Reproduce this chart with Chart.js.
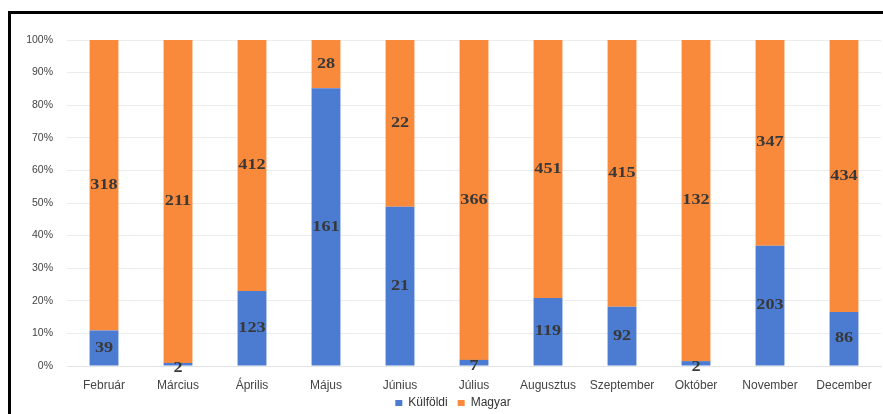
<!DOCTYPE html>
<html>
<head>
<meta charset="utf-8">
<script src="https://cdn.jsdelivr.net/npm/chart.js@4"></script>
<style>
  html, body { margin: 0; padding: 0; background: #fff; }
  #wrap { position: relative; width: 883px; height: 414px; }
  #frame {
    position: absolute; left: 8px; top: 11px; right: 0; bottom: -3px;
    border-left: 3px solid #000; border-top: 3px solid #000;
    box-shadow: 0 1px 0 #bbb; pointer-events: none;
  }
  canvas { position: absolute; left: 0; top: 0; }
</style>
</head>
<body>
<div id="wrap">
  <canvas id="chart" width="883" height="414"></canvas>
  <div id="frame"></div>
</div>
<script>
// monthly visitors, foreign vs. hungarian (stacked 100%)
const months = ["Február", "Március", "Április", "Május", "Június", "Július",
  "Augusztus", "Szeptember", "Október", "November", "December"];
const kulfoldi = [39, 2, 123, 161, 21, 7, 119, 92, 2, 203, 86];
const magyar = [318, 211, 412, 28, 22, 366, 451, 415, 132, 347, 434];
const yTicks = [0, 10, 20, 30, 40, 50, 60, 70, 80, 90, 100];

const totals = months.map((m, i) => kulfoldi[i] + magyar[i]);
const pct = (arr) => arr.map((v, i) => (v / totals[i]) * 100);
const rawValues = [kulfoldi, magyar];

// draws the raw counts centred on each bar segment (a bit stretched, like the original)
const valueLabels = {
  id: "valueLabels",
  afterDatasetsDraw(chart) {
    const ctx = chart.ctx;
    chart.data.datasets.forEach((ds, di) => {
      chart.getDatasetMeta(di).data.forEach((bar, i) => {
        const h = Math.abs(bar.base - bar.y);
        const y = (bar.y + bar.base) / 2 + (h < 10 ? 4 : 0);
        ctx.save();
        ctx.translate(bar.x, y);
        ctx.scale(1.3, 1);
        ctx.font = "bold 14px 'Liberation Serif', serif";
        ctx.fillStyle = "#383838";
        ctx.textAlign = "center";
        ctx.textBaseline = "middle";
        ctx.fillText(String(rawValues[di][i]), 0, 0);
        ctx.restore();
      });
    });
  },
};

new Chart(document.getElementById("chart"), {
  type: "bar",
  data: {
    labels: months,
    datasets: [
      { label: "Külföldi", data: pct(kulfoldi), backgroundColor: "#4b7cd1" },
      { label: "Magyar", data: pct(magyar), backgroundColor: "#fa8a3b" },
    ],
  },
  options: {
    responsive: false,
    animation: false,
    layout: { padding: { top: 40, right: 2, left: 25, bottom: 0 } },
    datasets: { bar: { barPercentage: 0.39, categoryPercentage: 1 } },
    plugins: {
      tooltip: { enabled: false },
      legend: {
        position: "bottom",
        maxHeight: 17,
        labels: {
          boxWidth: 7, boxHeight: 6, padding: 0,
          color: "#333", font: { family: "'Liberation Sans', sans-serif", size: 12 },
          generateLabels: (chart) => {
            const items = Chart.defaults.plugins.legend.labels.generateLabels(chart);
            return items.map((l, i) => (i < items.length - 1 ? { ...l, text: l.text + "   " } : l));
          },
        },
      },
    },
    scales: {
      x: {
        stacked: true,
        grid: { display: false },
        border: { color: "#e4e4e4" },
        ticks: { color: "#444", font: { family: "'Liberation Sans', sans-serif", size: 12 }, padding: 4, maxRotation: 0 },
        afterFit: (s) => { s.height = 31; },
      },
      y: {
        stacked: true,
        min: 0, max: 100,
        afterBuildTicks: (s) => { s.ticks = yTicks.map((v) => ({ value: v })); },
        grid: { color: "#ececec", drawTicks: false },
        border: { display: false },
        ticks: {
          color: "#444", padding: 14,
          font: { family: "'Liberation Sans', sans-serif", size: 10.5 },
          callback: (v) => v + "%",
        },
        afterFit: (s) => { s.width = 42; },
      },
    },
  },
  plugins: [valueLabels],
});
</script>
</body>
</html>
